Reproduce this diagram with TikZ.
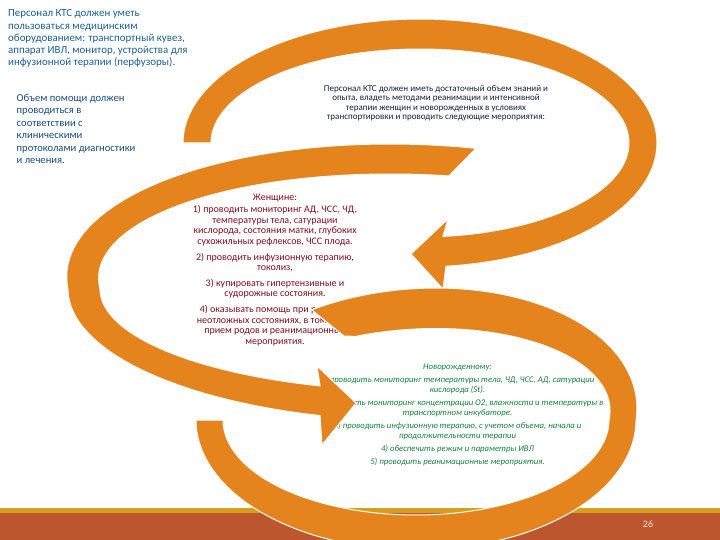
\documentclass[tikz,border=0pt]{standalone}
\usepackage{fontspec}
\setmainfont{Carlito}
\definecolor{arrowor}{RGB}{229,131,28}
\definecolor{footbrown}{RGB}{187,86,47}
\definecolor{footgold}{RGB}{214,158,28}
\definecolor{blueA}{RGB}{30,96,146}
\definecolor{blueB}{RGB}{24,78,128}
\definecolor{navy}{RGB}{22,30,68}
\definecolor{wred}{RGB}{128,14,30}
\definecolor{ngreen}{RGB}{22,128,62}
\definecolor{pagenum}{RGB}{245,228,212}
\begin{document}
\begin{tikzpicture}[x=1pt,y=-1pt,
  band/.style={fill=arrowor,draw=white,line width=1pt,line join=miter},
  txt/.style={inner sep=0pt,anchor=north}]
\useasboundingbox (0,0) rectangle (720,540);
\fill[white] (0,0) rectangle (720,540);
% footer
\fill[footgold] (0,508) rectangle (720,513);
\fill[footbrown] (0,513) rectangle (720,540);

% texts
\node[txt,anchor=north west,align=left,text=blueA,font=\fontsize{10.9}{12.3}\selectfont] (tleft) at (8,9.5)
 {Персонал КТС должен уметь\\ пользоваться медицинским\\ оборудованием: транспортный кувез,\\ аппарат ИВЛ, монитор, устройства для\\ инфузионной терапии (перфузоры).};
\node[txt,anchor=north west,align=left,text=blueB,font=\fontsize{10.6}{12.5}\selectfont] (tleft2) at (16.5,94)
 {Объем помощи должен\\ проводиться в\\ соответствии с\\ клиническими\\ протоколами диагностики\\ и лечения.};
\node[txt,align=center,text=navy,font=\fontsize{9}{9.2}\selectfont] (tcenter) at (436,85.3)
 {Персонал КТС должен иметь достаточный объем знаний и\\ опыта, владеть методами реанимации и интенсивной\\ терапии женщин и новорожденных в условиях\\ транспортировки и проводить следующие мероприятия:};
\node[txt,align=center,text=wred,font=\fontsize{10}{10.6}\selectfont] (twomen) at (275,193.5)
 {Женщине:\\[2pt] 1) проводить мониторинг АД, ЧСС, ЧД,\\ температуры тела, сатурации\\ кислорода, состояния матки, глубоких\\ сухожильных рефлексов, ЧСС плода.\\[5pt] 2) проводить инфузионную терапию,\\ токолиз,\\[5pt] 3) купировать гипертензивные и\\ судорожные состояния.\\[5pt] 4) оказывать помощь при развитии\\ неотложных состояниях, в том числе\\ прием родов и реанимационные\\ мероприятия.};
\node[txt,align=center,text=ngreen,font=\fontsize{8.7}{9.7}\selectfont\itshape] (tnewborn) at (457.5,364)
 {Новорожденному:\\[3.5pt] 1) проводить мониторинг температуры тела, ЧД, ЧСС, АД, сатурации\\ кислорода (St).\\[3.5pt] 2) обеспечить мониторинг концентрации О2, влажности и температуры в\\ транспортном инкубаторе.\\[3.5pt] 3) проводить инфузионную терапию, с учетом объема, начала и\\ продолжительности терапии\\[3.5pt] 4) обеспечить режим и параметры ИВЛ\\[3.5pt] 5) проводить реанимационные мероприятия.};

% arrow 1 (top)
\path[band] plot[domain=180:443.7,samples=100,variable=\t] ({420+237*cos(\t)},{143+124*sin(\t)})
  -- (443,289) -- (411,254) -- (448,219)
  -- plot[domain=443.7:180,samples=100,variable=\t] ({420+209*cos(\t)},{143+94*sin(\t)}) -- cycle;
% arrow 2 (middle)
\path[band] plot[domain=-76:-253.5,samples=120,variable=\t]
    ({420+352*cos(\t)+30*min(sin(\t),0)},{289+132*max(sin(\t),0)+145*min(sin(\t),0)})
  -- (322,445) -- (356,403) -- (317,366)
  -- plot[domain=-251.8:-79.5,samples=120,variable=\t]
    ({420+320*cos(\t)+30*min(sin(\t),0)},{289+102*max(sin(\t),0)+115*min(sin(\t),0)}) -- cycle;
% arrow 3 (bottom)
\path[band] plot[domain=180:-123.4,samples=150,variable=\t]
    ({416+220*cos(\t)-20*min(sin(\t),0)},{420+130*max(sin(\t),0)+132*min(sin(\t),0)})
  -- (344,336)
  -- plot[domain=-114:180,samples=150,variable=\t]
    ({416+193*cos(\t)-20*min(sin(\t),0)},{420+95*max(sin(\t),0)+91.5*min(sin(\t),0)}) -- cycle;

\node[text=pagenum,font=\fontsize{10}{12}\selectfont,inner sep=0pt] (pg) at (648,524) {26};
\end{tikzpicture}
\end{document}
